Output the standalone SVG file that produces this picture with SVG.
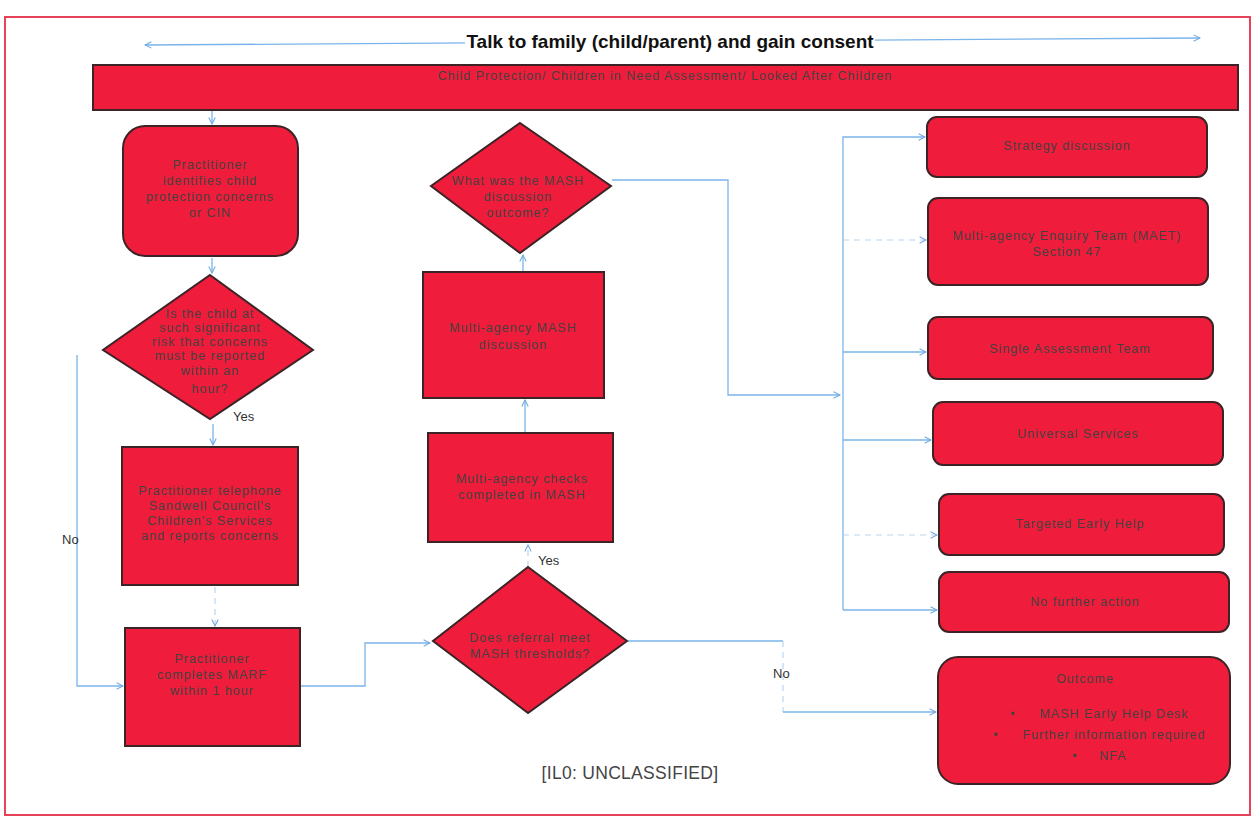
<svg xmlns="http://www.w3.org/2000/svg" width="1255" height="820" viewBox="0 0 1255 820">
<defs>
<marker id="ah" viewBox="0 0 10 10" refX="9" refY="5" markerWidth="8" markerHeight="8" markerUnits="userSpaceOnUse" orient="auto-start-reverse">
<path d="M1,1 L9,5 L1,9" fill="none" stroke="#6fa8e0" stroke-width="1.3"/>
</marker>
<style>
.n{fill:#ef1d3b;stroke:#3b2326;stroke-width:2}
.t{font-family:"Liberation Sans",Arial,sans-serif;font-size:12.5px;letter-spacing:1px;fill:#474040;text-anchor:middle}
.c{fill:none;stroke:#7ab4ea;stroke-width:1.3}
.d{fill:none;stroke:#b9d6f2;stroke-width:1.2;stroke-dasharray:6 5}
.lb{font-family:"Liberation Sans",Arial,sans-serif;font-size:13px;fill:#333}
</style>
</defs>
<rect width="1255" height="820" fill="#fff"/>
<rect x="5" y="17" width="1245" height="798" fill="none" stroke="#e8415a" stroke-width="2"/>

<g id="connectors">
<path class="c" d="M145,45 L1200,38" marker-start="url(#ah)" marker-end="url(#ah)"/>
<path class="c" d="M212,111 V124" marker-end="url(#ah)"/>
<path class="c" d="M212,258 V273" marker-end="url(#ah)"/>
<path class="c" d="M213,424 V445" marker-end="url(#ah)"/>
<path class="d" d="M215,587 V626" marker-end="url(#ah)"/>
<path class="c" d="M77,355 V686 H123" marker-end="url(#ah)"/>
<path class="c" d="M301,686 H365 V643 H430" marker-end="url(#ah)"/>
<path class="d" d="M528,567 V545" marker-end="url(#ah)"/>
<path class="c" d="M525,432 V400" marker-end="url(#ah)"/>
<path class="c" d="M523,272 V255" marker-end="url(#ah)"/>
<path class="c" d="M612,180 H728 V395 H840" marker-end="url(#ah)"/>
<path class="c" d="M843,610 V137 H925" marker-end="url(#ah)"/>
<path class="d" d="M843,240 H926" marker-end="url(#ah)"/>
<path class="c" d="M843,352 H926" marker-end="url(#ah)"/>
<path class="c" d="M843,440 H931" marker-end="url(#ah)"/>
<path class="d" d="M843,535 H937" marker-end="url(#ah)"/>
<path class="c" d="M843,610 H937" marker-end="url(#ah)"/>
<path class="c" d="M628,641 H783"/>
<path class="d" d="M783,641 V712"/>
<path class="c" d="M783,712 H936" marker-end="url(#ah)"/>
<text class="lb" x="233" y="421">Yes</text>
<text class="lb" x="538" y="565">Yes</text>
<text class="lb" x="62" y="544">No</text>
<text class="lb" x="773" y="678">No</text>
</g>

<g id="title">
<rect x="465" y="30" width="410" height="22" fill="#fff"/>
<text x="670" y="48" text-anchor="middle" font-family="Liberation Sans, Arial, sans-serif" font-size="19" font-weight="bold" fill="#111">Talk to family (child/parent) and gain consent</text>
</g>

<g id="banner">
<rect class="n" x="93" y="65" width="1145" height="45"/>
<text class="t" x="665" y="80">Child Protection/ Children in Need Assessment/ Looked After Children</text>
</g>

<g id="identifies">
<rect class="n" x="123" y="126" width="175" height="130" rx="22"/>
<text class="t" x="210" y="169">Practitioner</text>
<text class="t" x="210" y="185">identifies child</text>
<text class="t" x="210" y="201">protection concerns</text>
<text class="t" x="210" y="217">or CIN</text>
</g>

<g id="risk">
<polygon class="n" points="210,275 313,350 210,419 103,350"/>
<text class="t" x="210" y="318">Is the child at</text>
<text class="t" x="210" y="332">such significant</text>
<text class="t" x="210" y="346">risk that concerns</text>
<text class="t" x="210" y="360">must be reported</text>
<text class="t" x="210" y="375">within an</text>
<text class="t" x="210" y="393">hour?</text>
</g>

<g id="telephone">
<rect class="n" x="122" y="447" width="176" height="138"/>
<text class="t" x="210" y="495">Practitioner telephone</text>
<text class="t" x="210" y="510">Sandwell Council's</text>
<text class="t" x="210" y="525">Children's Services</text>
<text class="t" x="210" y="540">and reports concerns</text>
</g>

<g id="marf">
<rect class="n" x="125" y="628" width="175" height="118"/>
<text class="t" x="212" y="663">Practitioner</text>
<text class="t" x="212" y="679">completes MARF</text>
<text class="t" x="212" y="695">within 1 hour</text>
</g>

<g id="thresholds">
<polygon class="n" points="528,567 627,641 528,713 433,641"/>
<text class="t" x="530" y="642">Does referral meet</text>
<text class="t" x="530" y="658">MASH thresholds?</text>
</g>

<g id="checks">
<rect class="n" x="428" y="433" width="185" height="109"/>
<text class="t" x="522" y="483">Multi-agency checks</text>
<text class="t" x="522" y="499">completed in MASH</text>
</g>

<g id="discussion">
<rect class="n" x="423" y="272" width="181" height="126"/>
<text class="t" x="513" y="332">Multi-agency MASH</text>
<text class="t" x="513" y="349">discussion</text>
</g>

<g id="outcomeq">
<polygon class="n" points="520,123 611,186 520,253 431,186"/>
<text class="t" x="518" y="185">What was the MASH</text>
<text class="t" x="518" y="201">discussion</text>
<text class="t" x="518" y="217">outcome?</text>
</g>

<g id="strategy">
<rect class="n" x="927" y="117" width="280" height="60" rx="10"/>
<text class="t" x="1067" y="150">Strategy discussion</text>
</g>

<g id="maet">
<rect class="n" x="928" y="198" width="280" height="87" rx="10"/>
<text class="t" x="1067" y="240">Multi-agency Enquiry Team (MAET)</text>
<text class="t" x="1067" y="256">Section 47</text>
</g>

<g id="single">
<rect class="n" x="928" y="317" width="285" height="62" rx="10"/>
<text class="t" x="1070" y="353">Single Assessment Team</text>
</g>

<g id="universal">
<rect class="n" x="933" y="402" width="290" height="63" rx="10"/>
<text class="t" x="1078" y="438">Universal Services</text>
</g>

<g id="targeted">
<rect class="n" x="939" y="494" width="285" height="61" rx="10"/>
<text class="t" x="1080" y="528">Targeted Early Help</text>
</g>

<g id="nfa">
<rect class="n" x="939" y="572" width="290" height="60" rx="10"/>
<text class="t" x="1085" y="606">No further action</text>
</g>

<g id="outcome">
<rect class="n" x="938" y="657" width="292" height="127" rx="20"/>
<text class="t" x="1085" y="683">Outcome</text>
<text class="t" x="1013" y="718">•</text>
<text class="t" x="1114" y="718">MASH Early Help Desk</text>
<text class="t" x="996" y="739">•</text>
<text class="t" x="1114" y="739">Further information required</text>
<text class="t" x="1075" y="760">•</text>
<text class="t" x="1113" y="760">NFA</text>
</g>

<g id="classification">
<text x="630" y="779" text-anchor="middle" font-family="Liberation Sans, Arial, sans-serif" font-size="17.5" letter-spacing="0.3" fill="#444">[IL0: UNCLASSIFIED]</text>
</g>
</svg>
